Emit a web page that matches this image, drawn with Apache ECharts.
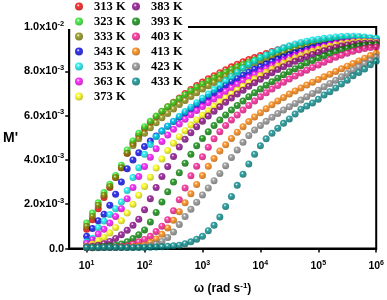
<!DOCTYPE html>
<html><head><meta charset="utf-8">
<script src="https://cdn.jsdelivr.net/npm/echarts@6/dist/echarts.min.js"></script>
<style>html,body{margin:0;padding:0;background:#fff}#c{width:387px;height:300px}</style>
</head><body><div id="c"></div>
<script>
// angular frequency, rad s^-1
const freq = [10,12.59,15.85,19.95,25.12,31.62,39.81,50.12,63.1,79.43,
  100,125.9,158.5,199.5,251.2,316.2,398.1,501.2,631,794.3,
  1000,1259,1585,1995,2512,3162,3981,5012,6310,7943,
  10000,12589,15849,19953,25119,31623,39811,50119,63096,79433,
  100000,125893,158489,199526,251189,316228,398107,501187,630957,794328,1000000];
// M' values in units of 1e-3
const m313 = [0.87,1.3,1.8,2.3,2.75,3.2,3.65,4.3,4.75,5.1,
  5.42,5.7,5.95,6.18,6.4,6.6,6.8,7.0,7.18,7.36,
  7.52,7.66,7.8,7.94,8.07,8.2,8.32,8.43,8.53,8.62,
  8.71,8.8,8.89,8.97,9.05,9.12,9.18,9.23,9.28,9.32,
  9.36,9.4,9.43,9.46,9.48,9.5,9.51,9.51,9.5,9.48,9.46];
const m323 = [1.15,1.6,2.06,2.53,2.9,3.3,3.76,4.45,4.85,5.2,
  5.5,5.75,5.98,6.2,6.4,6.58,6.76,6.94,7.11,7.28,
  7.42,7.56,7.7,7.83,7.96,8.08,8.2,8.31,8.41,8.51,
  8.6,8.69,8.78,8.86,8.94,9.01,9.08,9.14,9.19,9.24,
  9.28,9.32,9.36,9.39,9.42,9.44,9.45,9.46,9.46,9.45,9.43];
const m333 = [1.0,1.45,1.95,2.4,2.8,3.2,3.65,4.3,4.65,4.95,
  5.2,5.45,5.68,5.9,6.1,6.3,6.5,6.68,6.86,7.03,
  7.2,7.35,7.5,7.64,7.78,7.91,8.03,8.15,8.26,8.37,
  8.47,8.57,8.66,8.75,8.83,8.91,8.98,9.05,9.11,9.16,
  9.21,9.26,9.3,9.34,9.37,9.4,9.42,9.43,9.43,9.42,9.4];
const m343 = [0.55,0.9,1.25,1.55,1.95,2.45,3.0,3.6,4.0,4.32,
  4.6,4.85,5.08,5.3,5.52,5.73,5.93,6.12,6.3,6.48,
  6.66,6.84,7.02,7.2,7.37,7.53,7.68,7.82,7.96,8.09,
  8.21,8.33,8.44,8.55,8.65,8.75,8.84,8.92,9.0,9.07,
  9.13,9.19,9.24,9.28,9.32,9.35,9.37,9.39,9.39,9.38,9.36];
const m353 = [0.3,0.46,0.95,1.24,1.53,1.8,2.1,2.62,3.2,3.65,
  4.25,4.7,5.05,5.3,5.52,5.75,5.97,6.18,6.38,6.58,
  6.78,6.98,7.18,7.38,7.58,7.77,7.96,8.14,8.31,8.47,
  8.62,8.74,8.86,8.96,9.06,9.15,9.23,9.3,9.36,9.41,
  9.45,9.49,9.52,9.55,9.57,9.58,9.58,9.57,9.55,9.52,9.49];
const m363 = [0.24,0.4,0.65,0.87,1.15,1.45,1.8,2.25,2.75,3.25,
  3.7,4.12,4.5,4.83,5.12,5.38,5.62,5.84,6.04,6.23,
  6.41,6.58,6.75,6.92,7.09,7.26,7.42,7.58,7.73,7.87,
  8.01,8.14,8.27,8.39,8.51,8.62,8.72,8.82,8.91,8.99,
  9.07,9.14,9.2,9.25,9.29,9.32,9.34,9.35,9.35,9.34,9.32];
const m373 = [0.1,0.2,0.35,0.5,0.7,0.95,1.25,1.6,2.0,2.4,
  2.8,3.22,3.63,4.04,4.42,4.75,5.05,5.32,5.57,5.8,
  6.02,6.22,6.42,6.61,6.8,6.98,7.16,7.33,7.5,7.66,
  7.81,7.96,8.1,8.24,8.37,8.49,8.6,8.71,8.81,8.9,
  8.98,9.06,9.13,9.19,9.24,9.28,9.31,9.33,9.33,9.32,9.3];
const m383 = [0.08,0.1,0.15,0.22,0.32,0.45,0.62,0.82,1.05,1.32,
  1.75,2.25,2.75,3.25,3.7,4.15,4.58,4.93,5.23,5.5,
  5.75,5.98,6.2,6.4,6.6,6.79,6.97,7.15,7.32,7.48,
  7.64,7.79,7.94,8.08,8.21,8.33,8.45,8.56,8.66,8.76,
  8.85,8.93,9.01,9.08,9.14,9.19,9.23,9.26,9.27,9.27,9.26];
const m393 = [0.05,0.06,0.07,0.09,0.11,0.15,0.2,0.3,0.45,0.62,
  0.84,1.2,1.63,2.1,2.56,3.0,3.42,3.85,4.25,4.64,
  4.97,5.27,5.55,5.8,6.03,6.25,6.46,6.66,6.85,7.03,
  7.2,7.37,7.53,7.69,7.84,7.98,8.12,8.25,8.37,8.49,
  8.6,8.7,8.8,8.89,8.97,9.04,9.1,9.15,9.18,9.2,9.2];
const m403 = [0.04,0.04,0.05,0.05,0.06,0.07,0.09,0.12,0.2,0.3,
  0.41,0.55,0.77,1.01,1.3,1.7,2.2,2.73,3.28,3.71,
  4.14,4.57,4.95,5.27,5.55,5.8,6.03,6.25,6.46,6.66,
  6.85,7.03,7.2,7.36,7.51,7.65,7.79,7.92,8.05,8.17,
  8.29,8.41,8.52,8.63,8.73,8.82,8.9,8.97,9.03,9.07,9.1];
const m413 = [0.03,0.03,0.04,0.04,0.05,0.05,0.06,0.07,0.09,0.11,
  0.15,0.27,0.43,0.64,0.93,1.27,1.66,2.06,2.47,2.89,
  3.3,3.71,4.06,4.4,4.68,4.97,5.25,5.5,5.73,5.94,
  6.13,6.31,6.49,6.66,6.82,6.97,7.11,7.25,7.38,7.51,
  7.63,7.75,7.87,7.99,8.11,8.23,8.35,8.47,8.59,8.71,8.82];
const m423 = [0.03,0.03,0.03,0.04,0.04,0.04,0.05,0.05,0.05,0.06,
  0.08,0.12,0.2,0.32,0.5,0.75,1.08,1.44,1.77,2.09,
  2.42,2.73,3.06,3.39,3.74,4.11,4.45,4.8,5.1,5.35,
  5.55,5.74,5.92,6.09,6.25,6.4,6.55,6.7,6.85,7.0,
  7.15,7.3,7.45,7.6,7.75,7.9,8.05,8.2,8.35,8.5,8.64];
const m433 = [0.05,0.05,0.05,0.05,0.05,0.05,0.05,0.05,0.05,0.05,
  0.05,0.06,0.07,0.08,0.1,0.12,0.15,0.22,0.3,0.42,
  0.55,0.8,1.05,1.42,1.9,2.35,2.85,3.35,3.82,4.25,
  4.64,4.95,5.2,5.43,5.65,5.85,6.07,6.29,6.43,6.57,
  6.74,6.93,7.08,7.25,7.43,7.6,7.8,7.95,8.1,8.3,8.45];

const seriesNames = ['313 K','323 K','333 K','343 K','353 K','363 K','373 K',
                     '383 K','393 K','403 K','413 K','423 K','433 K'];
const seriesValues = [m313,m323,m333,m343,m353,m363,m373,m383,m393,m403,m413,m423,m433];
const colors = ['#ff0000','#22ee22','#8b8b00','#0000ee','#00f0f0','#ff00ff','#ffff00',
                '#8b008b','#008800','#ff1493','#ff8000','#8c8c8c','#008b8b'];

function darker(hex, f){
  const n = parseInt(hex.slice(1),16);
  const r = Math.round(((n>>16)&255)*f), g = Math.round(((n>>8)&255)*f), b = Math.round((n&255)*f);
  return 'rgb('+r+','+g+','+b+')';
}
function ball(c){
  return {type:'radial', x:0.4, y:0.35, r:0.65, colorStops:[
    {offset:0, color:'#ffffff'},{offset:0.3, color:c},{offset:1, color:darker(c,0.7)}]};
}

const chart = echarts.init(document.getElementById('c'), null, {renderer:'canvas'});
const series = seriesNames.map((name,i)=>({
  name, type:'scatter', symbol:'circle', symbolSize:7,
  itemStyle:{color:ball(colors[i])},
  data: freq.map((f,j)=>[f, seriesValues[i][j]])
}));

const lblFont = {fontFamily:'Liberation Sans, Arial', fontWeight:'bold', color:'#000'};
const legendText = {fontFamily:'Liberation Serif, Times New Roman', fontWeight:'bold', fontSize:12.5, lineHeight:12, color:'#000', padding:[0,0,0,2]};
chart.setOption({
  animation:false,
  backgroundColor:'#fff',
  grid:{left:63, right:8, top:27, bottom:39, show:true, borderColor:'#000', borderWidth:2, containLabel:false},
  legend:[
    {data:seriesNames.slice(0,7), orient:'vertical', left:75, top:0, itemWidth:16, itemHeight:8, itemGap:2, padding:0, textStyle:legendText, z:10},
    {data:seriesNames.slice(7), orient:'vertical', left:132, top:0, itemWidth:16, itemHeight:8, itemGap:2, padding:0, textStyle:legendText, z:10}
  ],
  xAxis:{type:'log', logBase:10, min:5, max:1000000,
    name:'ω (rad s{s|-1})', nameLocation:'middle', nameGap:33,
    nameTextStyle:{...lblFont, fontSize:12, rich:{s:{...lblFont, fontSize:8, padding:[0,0,7,0]}}},
    axisLine:{lineStyle:{color:'#000', width:2}},
    axisTick:{lineStyle:{color:'#000', width:1.5}, length:4},
    minorTick:{show:false},
    splitLine:{show:false},
    axisLabel:{showMinLabel:false, margin:11,
      formatter:v=>'{b|10}{s|'+Math.round(Math.log10(v))+'}',
      rich:{b:{...lblFont, fontSize:10.5}, s:{...lblFont, fontSize:7, padding:[0,0,7,0]}}}
  },
  yAxis:{type:'value', min:0, max:10, interval:2,
    name:"M'", nameLocation:'middle', nameRotate:0, nameGap:45,
    nameTextStyle:{...lblFont, fontSize:14, align:'right'},
    axisLine:{lineStyle:{color:'#000', width:2}},
    axisTick:{lineStyle:{color:'#000', width:1.5}, length:4},
    splitLine:{show:false},
    axisLabel:{margin:5,
      formatter:v=>{ if(v===0) return '{b|0.0}'; if(v>=10) return '{b|1.0x10}{s|-2}'; return '{b|'+v.toFixed(1)+'x10}{s|-3}'; },
      rich:{b:{...lblFont, fontSize:11}, s:{...lblFont, fontSize:7.5, padding:[0,0,7,0]}}}
  },
  graphic:[{type:'rect', shape:{x:65, y:25, width:123, height:4}, style:{fill:'#fff'}, z:3}],
  series
});
</script></body></html>
